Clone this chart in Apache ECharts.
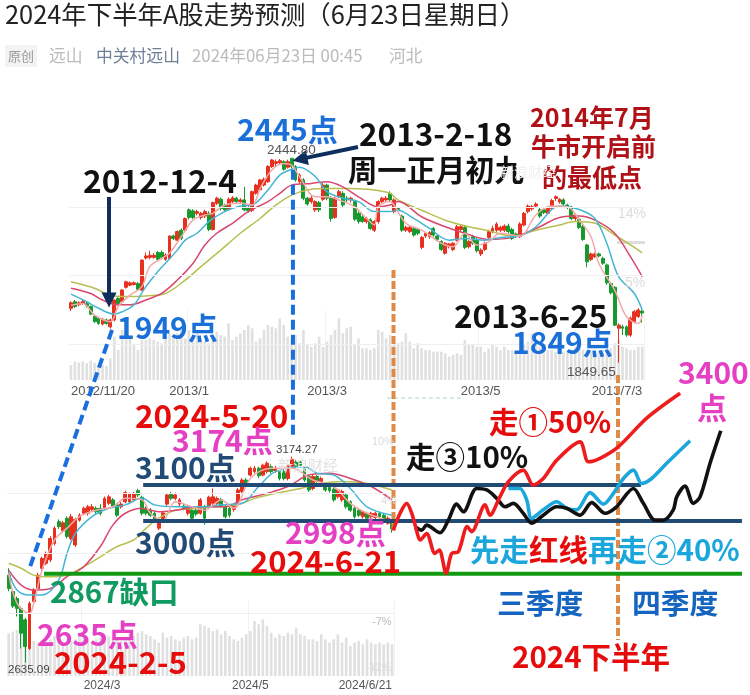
<!DOCTYPE html>
<html><head><meta charset="utf-8">
<style>html,body{margin:0;padding:0;background:#fff}#c{width:750px;height:695px}</style>
<script src="https://cdn.jsdelivr.net/npm/echarts@6/dist/echarts.min.js"></script>
</head><body><div id="c"></div>
<script>
// ---------- 2012/11 - 2013/7 daily rows: [open, close, low, high] ----------
const upperOHLC = [
[2008,2024,2000,2028],[2027,2013,2008,2032],[2018,2024,2014,2028],[2022,2028,2018,2032],[2022,2015,2010,2026],
[2013,1991,1988,2016],[1985,1969,1966,1988],[1979,1964,1960,1982],[1962,1976,1958,1980],[1974,1964,1960,1978],
[1954,1974,1949,1978],[1974,2032,1970,2034],[2037,2022,2018,2040],[2027,2061,2022,2064],[2069,2085,2065,2088],
[2075,2082,2072,2086],[2077,2082,2074,2086],[2080,2063,2058,2084],[2061,2148,2058,2150],[2154,2160,2150,2170],
[2156,2162,2150,2175],[2156,2162,2152,2168],[2170,2150,2146,2174],[2170,2156,2150,2176],[2150,2163,2146,2168],
[2153,2218,2150,2220],[2218,2211,2206,2222],[2206,2231,2202,2234],[2235,2211,2206,2240],[2235,2269,2230,2272],
[2294,2272,2266,2298],[2291,2272,2268,2296],[2284,2289,2278,2294],[2272,2284,2266,2288],[2276,2289,2270,2294],
[2284,2237,2232,2290],[2237,2315,2234,2318],[2313,2328,2308,2332],[2325,2298,2292,2330],[2308,2294,2288,2312],
[2296,2325,2292,2330],[2318,2329,2314,2334],[2328,2318,2312,2332],[2318,2323,2314,2328],[2323,2294,2290,2361],
[2301,2292,2286,2306],[2292,2347,2288,2350],[2342,2366,2338,2370],[2352,2381,2348,2384],[2366,2383,2362,2388],
[2376,2420,2372,2424],[2420,2439,2416,2442],[2429,2434,2420,2440],[2431,2437,2426,2442],[2434,2412,2408,2438],
[2418,2434,2414,2440],[2444,2420,2414,2444.8],[2420,2381,2376,2424],[2376,2395,2370,2400],[2381,2328,2322,2386],
[2328,2311,2306,2332],[2318,2328,2312,2334],[2294,2318,2288,2322],[2315,2294,2288,2320],[2325,2366,2320,2372],
[2366,2328,2322,2370],[2328,2269,2260,2334],[2272,2328,2268,2332],[2332,2347,2328,2352],[2342,2308,2302,2348],
[2328,2323,2316,2334],[2323,2328,2316,2332],[2318,2267,2262,2324],[2284,2260,2254,2290],[2274,2260,2256,2280],
[2260,2269,2254,2274],[2265,2240,2236,2270],[2235,2260,2230,2264],[2260,2318,2254,2322],[2318,2328,2314,2332],
[2323,2328,2318,2334],[2342,2323,2318,2348],[2289,2323,2284,2328],[2298,2294,2290,2302],[2276,2235,2230,2280],
[2235,2243,2230,2248],[2231,2243,2226,2248],[2240,2221,2216,2244],[2237,2226,2220,2242],[2185,2214,2180,2218],
[2218,2226,2212,2230],[2216,2228,2210,2232],[2240,2221,2216,2244],[2218,2208,2204,2222],[2202,2179,2174,2206],
[2168,2197,2164,2200],[2187,2195,2182,2198],[2179,2197,2174,2200],[2206,2245,2202,2250],[2237,2245,2232,2250],
[2243,2185,2180,2248],[2187,2202,2182,2206],[2216,2197,2192,2222],[2206,2175,2170,2212],[2166,2177,2160,2182],
[2179,2197,2174,2202],[2214,2231,2210,2236],[2231,2240,2226,2248],[2235,2253,2230,2258],[2235,2243,2230,2248],
[2235,2247,2230,2252],[2247,2231,2226,2254],[2237,2211,2206,2242],[2224,2216,2212,2228],[2216,2253,2212,2258],
[2250,2284,2246,2288],[2289,2305,2284,2310],[2297,2303,2292,2308],[2305,2311,2300,2316],[2294,2276,2270,2300],
[2294,2286,2282,2300],[2284,2298,2280,2302],[2298,2321,2294,2326],[2327,2332,2320,2336],[2317,2325,2312,2328],
[2323,2311,2306,2328],[2308,2301,2296,2312],[2301,2269,2264,2306],[2269,2279,2262,2284],[2267,2243,2238,2272],
[2245,2208,2204,2250],[2192,2143,2127,2195],[2150,2166,2145,2170],[2158,2166,2154,2170],[2166,2160,2156,2170],
[2153,2139,2134,2158],[2134,2082,2076,2138],[2080,2053,2048,2084],[2069,1959,1956,2072],[1950,1959,1849.65,1964],
[1954,1950,1930,1960],[1954,1930,1925,1958],[1930,1979,1925,1984],[1969,1998,1964,2003],[1984,2003,1980,2008],
[2000,1994,1966,2003]];
const upperVolume = [45,55,52,55,50,58,52,45,45,42,65,
130,90,150,140,130,105,90,120,120,125,
120,115,110,130,140,130,140,150,125,150,
130,140,120,115,110,125,145,135,130,170,
120,130,140,150,165,155,115,125,150,165,
160,155,185,165,130,120,135,110,150,105,
100,110,130,100,115,135,150,185,140,155,
160,105,125,95,95,90,95,150,145,125,
135,120,110,115,140,115,95,110,95,90,
90,85,85,85,80,70,75,80,75,120,
105,105,100,100,85,95,105,100,90,100,
90,90,85,85,105,115,140,105,100,95,
90,90,85,90,85,85,90,100,95,90,
90,85,85,85,90,95,95,110,120,100,
95,90,90,100,100];
const upperMA5 = [[0,2017],[3,2022],[6,1988],[10,1969],[12,2013],[15,2046],[18,2071],[20,2129],[23,2153],[25,2168],[28,2216],[31,2265],[34,2279],[36,2284],[39,2308],[43,2313],[46,2308],[48,2356],[51,2410],[54,2429],[56,2424],[58,2391],[62,2332],[65,2332],[68,2323],[72,2303],[75,2269],[77,2250],[78,2303],[81,2318],[82,2308],[85,2255],[89,2235],[94,2197],[97,2187],[100,2226],[103,2192],[106,2201],[109,2226],[114,2218],[118,2279],[122,2305],[126,2303],[129,2265],[132,2216],[134,2138],[138,2061],[141,1984],[144,1964],[145,1988]];
const upperMA10 = [[0,2049],[4,2027],[7,2008],[11,1991],[13,1998],[16,2018],[19,2071],[22,2114],[24,2139],[27,2177],[29,2206],[32,2226],[35,2260],[39,2289],[43,2305],[46,2308],[50,2352],[53,2395],[56,2412],[58,2418],[62,2391],[65,2347],[69,2328],[73,2318],[77,2289],[81,2289],[83,2293],[87,2269],[91,2240],[96,2206],[100,2211],[105,2206],[109,2214],[114,2218],[118,2245],[124,2305],[129,2295],[133,2269],[136,2197],[139,2100],[143,2051],[145,2003]];
const upperMA20 = [[0,2066],[5,2051],[8,2032],[12,2018],[15,2018],[19,2032],[23,2051],[27,2090],[31,2139],[34,2192],[37,2226],[41,2255],[45,2289],[50,2318],[53,2342],[56,2366],[61,2371],[65,2376],[69,2361],[73,2332],[78,2303],[81,2308],[83,2318],[89,2274],[95,2245],[100,2226],[106,2208],[112,2214],[119,2245],[124,2272],[129,2276],[133,2264],[138,2226],[142,2158],[145,2100]];
const upperMA60 = [[0,2085],[6,2066],[10,2046],[14,2042],[19,2044],[24,2051],[29,2090],[33,2129],[38,2177],[43,2226],[48,2269],[52,2308],[56,2337],[60,2352],[65,2356],[70,2356],[75,2354],[81,2342],[83,2323],[89,2293],[95,2264],[101,2245],[106,2233],[112,2218],[118,2235],[124,2250],[128,2260],[133,2255],[138,2221],[142,2192],[145,2169]];
const upperTicks = {0:'2012/11/20',30:'2013/1',65:'2013/3',104:'2013/5',145:'2013/7/3'};
const upperGridValues = [2302,2103,1904];

// ---------- 2024/1 - 2024/6/21 daily rows: [open, close, low, high] ----------
const lowerOHLC = [
[2864,2829,2822,2882],[2821,2783,2778,2826],[2803,2777,2756,2808],[2777,2712,2672,2782],[2747,2677,2635.09,2752],
[2672,2790,2668,2795],[2795,2825,2790,2830],[2829,2864,2824,2870],[2882,2908,2876,2912],[2895,2921,2890,2926],
[2904,2960,2898,2966],[2947,2987,2942,2992],[3004,2991,2985,3010],[2980,3001,2975,3006],[3013,2965,2960,3018],
[2960,3017,2955,3024],[2943,3010,2938,3014],[3008,3021,3004,3026],[3026,3039,3022,3043],[3026,3043,3020,3048],
[3036,3043,3030,3050],[3039,3030,3024,3044],[3039,3026,3020,3050],[3041,3065,3036,3070],[3052,3069,3048,3074],
[3061,3045,3040,3066],[3048,3021,3016,3052],[3043,3050,3038,3055],[3056,3080,3052,3085],[3056,3076,3052,3080],
[3061,3078,3056,3082],[3085,3074,3068,3090],[3068,3026,3020,3072],[3039,3026,3020,3044],[3034,3021,3016,3040],
[3026,3008,3002,3030],[2987,3007,2982,3012],[3010,3027,3005,3032],[3050,3074,3045,3078],[3076,3065,3060,3082],
[3065,3074,3060,3080],[3050,3061,3045,3066],[3045,3039,3034,3050],[3026,3043,3020,3048],[3034,3013,3008,3040],
[3034,3024,3018,3040],[3026,3061,3022,3066],[3043,3013,2996,3048],[3043,3068,3038,3072],[3052,3069,3048,3091],
[3052,3065,3048,3070],[3062,3045,3040,3066],[3043,3017,3012,3048],[3039,3021,3015,3044],[3036,3048,3030,3052],
[3052,3087,3048,3092],[3083,3113,3078,3118],[3113,3100,3094,3118],[3126,3144,3122,3148],[3135,3144,3130,3150],
[3144,3124,3118,3148],[3126,3152,3122,3156],[3135,3157,3130,3162],[3148,3135,3130,3154],[3138,3144,3132,3150],
[3135,3117,3112,3140],[3135,3117,3112,3140],[3117,3150,3112,3154],[3148,3167,3144,3174.27],[3160,3148,3144,3166],
[3160,3152,3148,3164],[3144,3113,3108,3148],[3122,3087,3082,3126],[3091,3122,3086,3126],[3122,3109,3104,3126],
[3109,3117,3104,3122],[3100,3087,3082,3104],[3094,3085,3080,3098],[3089,3061,3056,3094],[3069,3087,3064,3090],
[3061,3083,3056,3088],[3074,3043,3038,3078],[3056,3034,3030,3060],[3039,3017,3012,3044],[3034,3021,3016,3040],
[3017,3030,3012,3034],[3026,3013,3008,3030],[3017,3026,3012,3030],[3015,3026,3010,3030],[3026,3017,3012,3030],
[3021,3004,3000,3026],[3000,3013,2996,3018],[3002,2986,2975,3008]];
const lowerVolume = [128,133,138,150,170,120,105,100,90,95,110,
120,115,95,100,105,110,120,115,105,100,110,
115,105,120,115,110,105,110,125,120,130,135,
125,120,110,100,130,115,120,110,105,115,120,
110,115,155,150,145,135,140,125,135,120,110,
105,115,125,135,165,155,170,150,130,115,125,
120,130,125,145,125,120,110,110,105,125,110,
100,110,125,100,115,90,100,105,95,110,100,
95,100,95,100,95];
const lowerMA5 = [[0,2869],[2,2790],[5,2764],[6,2790],[8,2877],[11,2956],[14,2987],[17,3017],[21,3034],[25,3043],[28,3065],[32,3061],[34,3026],[37,3008],[40,3056],[44,3043],[47,3034],[51,3061],[54,3039],[58,3117],[63,3144],[68,3144],[73,3113],[78,3096],[82,3052],[86,3026],[92,3004]];
const lowerMA10 = [[0,2873],[2,2825],[5,2812],[8,2812],[12,2851],[14,2921],[16,2973],[20,3017],[24,3039],[28,3048],[32,3065],[35,3048],[40,3043],[46,3043],[51,3048],[56,3052],[60,3096],[64,3135],[71,3148],[74,3131],[78,3126],[82,3091],[86,3043],[92,3021]];
const lowerMA20 = [[0,2877],[3,2838],[6,2825],[10,2829],[14,2860],[18,2886],[22,2939],[25,2995],[28,3026],[32,3039],[36,3030],[40,3034],[46,3043],[52,3043],[56,3061],[62,3078],[67,3096],[72,3126],[77,3131],[82,3117],[87,3096],[92,3061]];
const lowerMA60 = [[0,2895],[3,2882],[6,2864],[9,2860],[14,2864],[18,2886],[22,2912],[26,2939],[30,2956],[33,2987],[36,3013],[40,3034],[45,3039],[50,3043],[55,3048],[59,3065],[64,3078],[70,3091],[75,3104],[80,3109],[86,3104],[92,3087]];
const lowerTicks = {18:'2024/3',58:'2024/5',92:'2024/6/21'};
const lowerGridValues = [3078,2921,2764];

// ---------- forecast paths: [days after 2024-06-21, index level] ----------
const pathRed = [[-0.3,2982],[2.5,3026],[5.2,3052],[7.3,3026],[9.6,2973],[10.7,2956],[13.4,2973],[16.8,2921],[18.6,2930],[21.4,2869],[23.7,2921],[26.4,2925],[30.1,2991],[31.9,2978],[37.4,3048],[39.4,3021],[43.5,3069],[47,3109],[53.1,3139],[57.2,3100],[61.3,3117],[66.8,3165],[76.4,3213],[79.8,3161],[84.6,3170],[92.1,3200],[103.8,3275],[117.5,3340]];
const pathBlue = [[47,3091],[51.7,3091],[54.5,3061],[56.5,3013],[61.3,3035],[66.8,3056],[70.9,3039],[75,3035],[80.5,3080],[86,3050],[90.1,3078],[94.2,3117],[98.3,3139],[101.7,3104],[105.8,3117],[112,3157],[121.6,3216]];
const pathBlack = [[8.6,2991],[11.4,2982],[13.4,2995],[18.9,2975],[22.3,3008],[25.7,3050],[28.5,3030],[33.9,3091],[38.1,3087],[42.2,3065],[45.6,3043],[49,3052],[53.1,3026],[56.5,3000],[61.3,3021],[66.8,3043],[70.9,3039],[76.4,3021],[81.2,3054],[86.7,3026],[91.4,3043],[98.3,3091],[102.4,3052],[107.2,3008],[110.6,3008],[114.7,3035],[116.1,3069],[119.5,3097],[122.9,3052],[125.7,3069],[129.8,3157],[134.2,3242]];
const level3100 = [[-103,3100],[101.4,3100]];
const level3000 = [[-103,3006],[142.9,3006]];
const level2867 = [[-143.7,2868],[142.9,2868]];
const halfYearStart = [[-0.2,3663],[-0.2,2980]];
const quarterSplit = [[92,3388],[92,2694]];
const peakLink = [[-41.5,3925],[-41.5,3231]];
const lowLink = [[-115.8,3506],[-149.5,2885]];

const RED='#e8301f', GREEN='#169a2e', NAVY='#214a74', ORANGE='#e08a48', LINK='#1a6fe0';
const CJK='"Noto Sans CJK SC","Noto Sans",sans-serif', LAT='"Liberation Sans",Arial,sans-serif';

function catAxis(n, idx, ticks, show){
  const cats = Array.from({length:n},(_,i)=>'d'+i);
  return {type:'category',gridIndex:idx,data:cats,boundaryGap:true,
    axisLine:{show:false},axisTick:{show:false},
    splitLine:{show:show,interval:(i)=>(i in ticks)&&i>0&&i<n-1,lineStyle:{color:'#f2f2f2'}},
    axisLabel:{show:show,interval:(i)=>i in ticks,formatter:(v,i)=>ticks[i]||'',
      color:'#555',fontFamily:LAT,fontSize:idx===2?13:12,margin:idx===2?5:4,
      alignMinLabel:'left',alignMaxLabel:'right',hideOverlap:false}};
}
function valAxis(idx,min,max){
  return {type:'value',gridIndex:idx,min,max,show:false,splitLine:{show:false},scale:true};
}
function kline(name,x,y,rows,gv){
  return {type:'candlestick',name,xAxisIndex:x,yAxisIndex:y,data:rows,barWidth:3.4,silent:true,z:3,
    itemStyle:{color:RED,color0:GREEN,borderColor:RED,borderColor0:GREEN,borderWidth:1},
    markLine:{silent:true,symbol:'none',label:{show:false},animation:false,
      lineStyle:{color:'#efefef',width:1,type:'solid'},data:gv.map(v=>({yAxis:v}))}};
}
function ma(x,y,data,color){
  return {type:'line',xAxisIndex:x,yAxisIndex:y,data,symbol:'none',smooth:0.35,z:4,silent:true,
    lineStyle:{color,width:1.5}};
}
function vol(x,y,data){
  return {type:'bar',xAxisIndex:x,yAxisIndex:y,data,barWidth:2.6,silent:true,z:1,itemStyle:{color:'#e0e0e0'}};
}
function over(data,color,width,extra){
  return Object.assign({type:'line',xAxisIndex:4,yAxisIndex:4,data,symbol:'none',silent:true,z:6,
    lineStyle:Object.assign({color,width},extra&&extra.ls||{}),smooth:extra&&extra.smooth||false},{});
}
const dashO={ls:{type:[8,3]}}, dashB={ls:{type:[10,5]}};

const T=(text,x,y,fill,size,opt)=>({type:'text',z:50,silent:true,x,y,style:Object.assign({text,fill,
  font:`${(opt&&opt.weight)||'bold'} ${size}px ${(opt&&opt.fam)||CJK}`,textVerticalAlign:'middle',textAlign:(opt&&opt.align)||'left'},{})});
const BLUE='#1a6fd8', MAG='#e540c4', DRED='#b01116', VRED='#e60c0c', SKY='#1ba6dc';
const noteTexts = [
 T('2024年下半年A股走势预测（6月23日星期日）',5,14,'#222',25.4,{weight:'normal'}),
 T('远山',49,56,'#bbb',16.8,{weight:'normal'}),
 T('中关村远山',96,56,'#6f7f96',16.8,{weight:'normal'}),
 T('2024年06月23日 00:45',192,56,'#bbb',16.8,{weight:'normal'}),
 T('河北',389,56,'#bbb',16.8,{weight:'normal'}),
 T('原创',8,56,'#999',13,{weight:'normal'}),
 T('2445点',237,130,BLUE,30), T('2013-2-18',359,134,'#111',31.5), T('周一正月初九',348,170,'#111',29.3),
 T('2014年7月',530,117,DRED,25), T('牛市开启前',531,146,DRED,25), T('的最低点',542,177,DRED,25),
 T('2012-12-4',83,181,'#111',31.6), T('1949点',117,328,BLUE,30), T('2013-6-25',454,316,'#111',31.5),
 T('1849点',512,343,BLUE,30), T('2024-5-20',135,416,VRED,31.5), T('3174点',172,441,MAG,30),
 T('3100点',135,468,NAVY,30), T('走③10%',406,457,'#111',29.5), T('走①50%',489,422,VRED,29.5),
 T('3400',678,373,MAG,30), T('点',697,408,MAG,30), T('3000点',135,543,NAVY,30),
 T('2998点',285,533,MAG,30), T('2024-6-21',250,561,VRED,31),
 T('先走',470,550,SKY,29.5), T('红线',529,550,VRED,29.5), T('再走②40%',588,550,SKY,29.5),
 T('2867缺口',50,592,'#0f9a5f',29.5), T('2635点',37,635,MAG,30), T('2024-2-5',54,662,VRED,31),
 T('三季度',497,603,'#1565c0',28.8), T('四季度',632,603,'#1565c0',28.8), T('2024下半年',512,657,VRED,29.5),
 T('2444.80',267,150,'#555',13.5,{weight:'normal',fam:LAT}), T('1849.65',567,372,'#555',13.5,{weight:'normal',fam:LAT}),
 T('3174.27',276,450,'#444',11.5,{weight:'normal',fam:LAT}), T('2635.09',8,670,'#444',11.5,{weight:'normal',fam:LAT}),
 T('14%',618,214,'#dcdcdc',14,{weight:'normal',fam:LAT}), T('5%',625,283,'#dcdcdc',14,{weight:'normal',fam:LAT}),
 T('10%',372,442,'#dcdcdc',11,{weight:'normal',fam:LAT}), T('4%',381,501,'#dcdcdc',11,{weight:'normal',fam:LAT}),
 T('-7%',372,622,'#bbb',11,{weight:'normal',fam:LAT}), T('-12%',366,668,'#dcdcdc',11,{weight:'normal',fam:LAT}),
 T('新浪财经',500,172,'#f0f0f0',14,{weight:'normal'}), T('新浪财经',278,465,'#e2e2e2',15,{weight:'normal'})
];

const chart = echarts.init(document.getElementById('c'),null,{renderer:'canvas'});
chart.setOption({
  animation:false, backgroundColor:'#fff',
  grid:[
    {left:69,width:575.2,top:110,height:270},
    {left:6.6,width:387.5,top:400,height:276},
    {left:69,width:575.2,top:310,height:70},
    {left:6.6,width:387.5,top:600,height:76},
    {left:0,width:750,top:0,height:695}
  ],
  xAxis:[
    catAxis(upperOHLC.length,0,upperTicks,false),
    catAxis(lowerOHLC.length,1,lowerTicks,false),
    catAxis(upperOHLC.length,2,upperTicks,true),
    catAxis(lowerOHLC.length,3,lowerTicks,true),
    {type:'value',gridIndex:4,min:-161.8,max:146.2,show:false,splitLine:{show:false}}
  ],
  yAxis:[
    valAxis(0,1799.5,2584.3), valAxis(1,2600,3322.5),
    valAxis(2,0,210), valAxis(3,0,228),
    valAxis(4,2550.3,4369.6)
  ],
  series:[
    vol(2,2,upperVolume), vol(3,3,lowerVolume),
    kline('上证2013',0,0,upperOHLC,upperGridValues), kline('上证2024',1,1,lowerOHLC,lowerGridValues),
    ma(0,0,upperMA60,'#b7c04e'), ma(0,0,upperMA20,'#d9476d'), ma(0,0,upperMA10,'#45b5d6'), ma(0,0,upperMA5,'#f3a9a9'),
    ma(1,1,lowerMA60,'#b7c04e'), ma(1,1,lowerMA20,'#d9476d'), ma(1,1,lowerMA10,'#45b5d6'), ma(1,1,lowerMA5,'#f3a9a9'),
    over(peakLink,LINK,4,dashB), over(lowLink,LINK,4,dashB),
    over(halfYearStart,ORANGE,4,dashO), over(quarterSplit,ORANGE,4,dashO),
    over(level3100,NAVY,4), over(level3000,NAVY,4), over(level2867,'#119a11',4),
    over(pathBlue,'#1ba6dc',3.6,{smooth:0.3}), over(pathBlack,'#111',3.6,{smooth:0.3}), over(pathRed,'#ee1c1c',3.6,{smooth:0.3}),
    {type:'line',xAxisIndex:4,yAxisIndex:4,data:[],silent:true,z:7,
      markLine:{silent:true,symbol:['none','triangle'],symbolSize:15,label:{show:false},animation:false,
        lineStyle:{color:'#0e2f5e',width:4,type:'solid'},
        data:[[{coord:[-117,3854]},{coord:[-117,3584]}],[{coord:[-14.8,3985]},{coord:[-38.6,3953]}]]}}
  ],
  graphic:[
    {type:'rect',z:40,silent:true,shape:{x:5,y:45,width:32,height:22},style:{fill:'#f3f3f3'}},
    {type:'rect',z:2,silent:true,shape:{x:617,y:241,width:28,height:3},style:{fill:'#dedede'}},
    {type:'line',z:2,silent:true,shape:{x1:387,y1:398,x2:463,y2:398},style:{stroke:'#a8d8c8',lineWidth:1,lineDash:[4,3]}},
    ...noteTexts
  ]
});
</script></body></html>
